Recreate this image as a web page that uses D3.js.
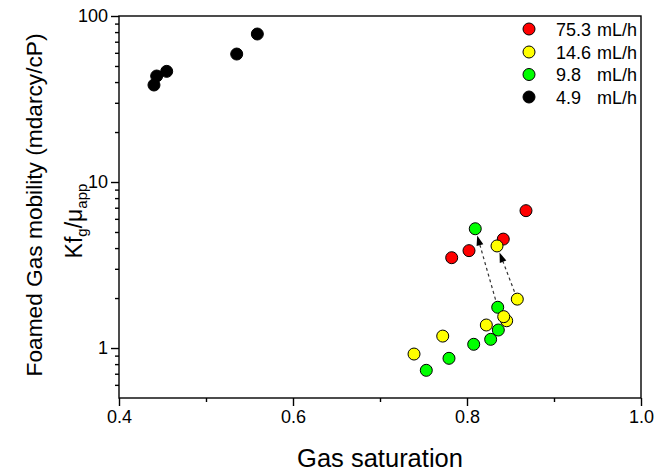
<!DOCTYPE html>
<html>
<head>
<meta charset="utf-8">
<script src="https://cdn.jsdelivr.net/npm/d3@7"></script>
<style>
  html, body { margin: 0; padding: 0; background: #fff; }
  svg { display: block; }
  text { font-family: "Liberation Sans", Arial, sans-serif; fill: #000; }
</style>
</head>
<body>
<svg id="chart" width="668" height="471"></svg>
<script>
// ---- Data ----
const seriesNames = ["75.3", "14.6", "9.8", "4.9"];
const seriesColors = ["#ff0000", "#ffff00", "#00ff00", "#000000"];

const redX = [0.7824, 0.8023, 0.8417, 0.8678];
const redY = [3.50, 3.86, 4.53, 6.72];

const yellowX = [0.7391, 0.7721, 0.8222, 0.8456, 0.8422, 0.8578, 0.8345];
const yellowY = [0.920, 1.18, 1.376, 1.46, 1.545, 1.97, 4.12];

const greenX = [0.7532, 0.7793, 0.8077, 0.8272, 0.8360, 0.8353, 0.8095];
const greenY = [0.734, 0.867, 1.053, 1.128, 1.284, 1.76, 5.23];

const blackX = [0.4402, 0.4433, 0.4548, 0.5353, 0.5590];
const blackY = [38.4, 43.5, 46.4, 59.0, 77.9];

// dashed arrows: from (x,y) to (x,y)
const arrowFromX = [0.8353, 0.8578];
const arrowFromY = [1.76, 1.97];
const arrowToX = [0.8095, 0.8345];
const arrowToY = [5.23, 4.12];

const xTicks = [0.4, 0.6, 0.8, 1.0];
const xTickLabels = ["0.4", "0.6", "0.8", "1.0"];
const xMinorTicks = [0.5, 0.7, 0.9];
const yTicks = [1, 10, 100];
const yTickLabels = ["1", "10", "100"];
const yMinorTicks = [0.6, 0.7, 0.8, 0.9, 2, 3, 4, 5, 6, 7, 8, 9, 20, 30, 40, 50, 60, 70, 80, 90];

// ---- Layout ----
const svg = d3.select("#chart");
const L = 119, R = 641, T = 16, B = 398;

const x = d3.scaleLinear().domain([0.4, 1.0]).range([L, R]);
const y = d3.scaleLog().domain([0.5, 100]).range([B, T]);

// frame
svg.append("rect").attr("x", L).attr("y", T).attr("width", R - L).attr("height", B - T)
  .attr("fill", "none").attr("stroke", "#000").attr("stroke-width", 1.4);

// x axis
const xAxis = d3.axisBottom(x).tickValues(xTicks).tickSize(8).tickPadding(4)
  .tickFormat((d, i) => xTickLabels[i]);
const gx = svg.append("g").attr("transform", `translate(0,${B})`).call(xAxis);
gx.select(".domain").remove();
gx.selectAll("line").attr("stroke", "#000").attr("stroke-width", 1.4);
gx.selectAll("text").attr("font-size", 18).attr("font-family", '"Liberation Sans", Arial, sans-serif');
const gxm = svg.append("g").attr("transform", `translate(0,${B})`)
  .call(d3.axisBottom(x).tickValues(xMinorTicks).tickSize(4).tickFormat(""));
gxm.select(".domain").remove();
gxm.selectAll("line").attr("stroke", "#000").attr("stroke-width", 1.4);

// y axis
const yAxis = d3.axisLeft(y).tickValues(yTicks).tickSize(8).tickPadding(3)
  .tickFormat((d, i) => yTickLabels[i]);
const gy = svg.append("g").attr("transform", `translate(${L},0)`).call(yAxis);
gy.select(".domain").remove();
gy.selectAll("line").attr("stroke", "#000").attr("stroke-width", 1.4);
gy.selectAll("text").attr("font-size", 18).attr("font-family", '"Liberation Sans", Arial, sans-serif');
const gym = svg.append("g").attr("transform", `translate(${L},0)`)
  .call(d3.axisLeft(y).tickValues(yMinorTicks).tickSize(4).tickFormat(""));
gym.select(".domain").remove();
gym.selectAll("line").attr("stroke", "#000").attr("stroke-width", 1.4);

// axis titles
svg.append("text").attr("x", (L + R) / 2).attr("y", 467).attr("text-anchor", "middle")
  .attr("font-size", 25.5).text("Gas saturation");

svg.append("text").attr("transform", `translate(42,205) rotate(-90)`)
  .attr("text-anchor", "middle").attr("font-size", 22.7).text("Foamed Gas mobility (mdarcy/cP)");

const yl2 = svg.append("text").attr("transform", `translate(82,221) rotate(-90)`)
  .attr("text-anchor", "middle").attr("font-size", 23);
yl2.append("tspan").text("Kf");
yl2.append("tspan").attr("font-size", 15).attr("dy", 5).text("g");
yl2.append("tspan").attr("dy", -5).text("/μ");
yl2.append("tspan").attr("font-size", 15).attr("dy", 5).text("app");

// points
const groups = [
  { xs: blackX, ys: blackY, c: seriesColors[3] },
  { xs: redX, ys: redY, c: seriesColors[0] },
  { xs: greenX, ys: greenY, c: seriesColors[2] },
  { xs: yellowX, ys: yellowY, c: seriesColors[1] }
];
groups.forEach(g => {
  svg.append("g").selectAll("circle").data(g.xs.map((v, i) => [v, g.ys[i]])).join("circle")
    .attr("cx", d => x(d[0])).attr("cy", d => y(d[1])).attr("r", 6)
    .attr("fill", g.c).attr("stroke", "#000").attr("stroke-width", 1);
});

// arrows
arrowFromX.forEach((fx, i) => {
  const x0 = x(fx), y0 = y(arrowFromY[i]);
  const x1 = x(arrowToX[i]), y1 = y(arrowToY[i]);
  const dx = x1 - x0, dy = y1 - y0, len = Math.hypot(dx, dy);
  const ux = dx / len, uy = dy / len;
  const sx = x0 + ux * 8, sy = y0 + uy * 8;
  const tx = x1 - ux * 7, ty = y1 - uy * 7;
  const headLen = 10, headW = 3.5;
  const bx = tx - ux * headLen, by = ty - uy * headLen;
  svg.append("line").attr("x1", sx).attr("y1", sy).attr("x2", bx).attr("y2", by)
    .attr("stroke", "#333").attr("stroke-width", 1.2).attr("stroke-dasharray", "3,3");
  svg.append("path")
    .attr("d", `M${tx},${ty}L${bx - uy * headW},${by + ux * headW}L${bx + uy * headW},${by - ux * headW}Z`)
    .attr("fill", "#000");
});

// legend
const legY = [29, 52, 74.5, 97];
const legOrder = [0, 1, 2, 3];
legOrder.forEach((k, i) => {
  svg.append("circle").attr("cx", 529).attr("cy", legY[i]).attr("r", 6)
    .attr("fill", seriesColors[k]).attr("stroke", "#000").attr("stroke-width", 1);
  svg.append("text").attr("x", 556).attr("y", legY[i] + 6.5).attr("font-size", 18).text(seriesNames[k]);
  svg.append("text").attr("x", 637).attr("y", legY[i] + 6.5).attr("font-size", 18)
    .attr("text-anchor", "end").text("mL/h");
});
</script>
</body>
</html>
